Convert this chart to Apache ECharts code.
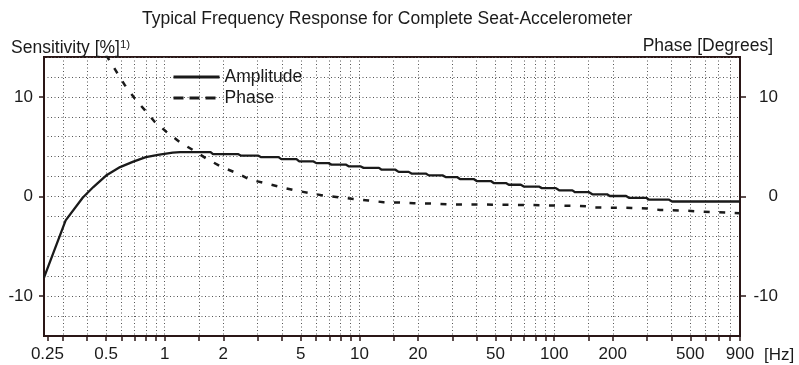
<!DOCTYPE html>
<html><head><meta charset="utf-8">
<script src="https://cdn.jsdelivr.net/npm/echarts@6/dist/echarts.min.js"></script>
<style>html,body{margin:0;padding:0;background:#fff}#c{width:799px;height:365px}</style>
</head><body><div id="c"></div>
<script>
const ampHz = [0.24,0.31,0.38,0.43,0.5,0.59,0.69,0.8,0.94,1.1,1.2,1.72,1.77,2.39,2.47,3.03,3.13,3.84,3.97,4.75,4.91,5.81,6.01,6.94,7.18,8.5,8.8,10.1,10.5,12.6,13.0,15.3,15.9,17.9,18.5,21.9,22.7,26.7,27.7,31.7,32.8,38.6,40.0,47.3,48.9,56.5,58.5,67.4,69.8,83.5,86.4,102,106,124,128,151,157,187,193,234,242,297,307,389,403,900];
const ampPct = [-8.15,-2.4,-0.1,0.95,2.1,2.95,3.5,3.95,4.2,4.4,4.45,4.45,4.25,4.25,4.1,4.1,3.95,3.95,3.75,3.75,3.52,3.52,3.35,3.35,3.2,3.2,3.03,3.03,2.87,2.87,2.69,2.69,2.47,2.47,2.3,2.3,2.12,2.12,1.95,1.95,1.75,1.75,1.55,1.55,1.35,1.35,1.18,1.18,1.0,1.0,0.84,0.84,0.62,0.62,0.43,0.43,0.22,0.22,0.05,0.05,-0.13,-0.13,-0.32,-0.32,-0.5,-0.5];
const phaseHz = [0.5,0.564,0.623,0.70,0.789,0.888,1.02,1.19,1.40,1.64,1.96,2.34,2.74,3.27,3.95,4.70,5.57,6.52,7.79,9.31,11.1,13.3,16,19,23,28,34,41,49,60,75,90,110,130,150,160,200,250,300,350,450,550,700,900];
const phaseDeg = [14.2,12.56,11.2,9.87,8.69,7.5,6.5,5.48,4.65,3.8,2.96,2.36,1.69,1.35,0.94,0.6,0.34,0.1,-0.07,-0.24,-0.4,-0.57,-0.6,-0.67,-0.7,-0.78,-0.8,-0.8,-0.82,-0.84,-0.85,-0.9,-0.92,-0.95,-1.0,-1.1,-1.12,-1.15,-1.2,-1.35,-1.4,-1.5,-1.58,-1.68];
const xLabelHz = [0.25,0.5,1,2,5,10,20,50,100,200,500,900];
const xGridHz = [0.3,0.4,0.5,0.6,0.7,0.8,0.9,1,1.5,2,3,4,5,6,7,8,9,10,15,20,30,40,50,60,70,80,90,100,150,200,300,400,500,600,700,800];
const xTickHz = [0.25].concat(xGridHz, [900]);
const yLabelVals = [-10,0,10];
const xMinHz = 0.24, xMaxHz = 900;

const lg = Math.log10;
const FONT = 'Liberation Sans, Arial, sans-serif';
const INK = '#1a1a1a';
const FRAME = '#2a1616';
const dotted = {color:'#555', width:1, type:[1,2.5]};
const hiddenSym = {color:'rgba(0,0,0,0)', borderColor:'rgba(0,0,0,0)', borderWidth:0, opacity:0};

const chart = echarts.init(document.getElementById('c'), null, {renderer:'canvas'});
const xBase = {type:'value', min:lg(xMinHz), max:lg(xMaxHz)};
const yBase = {type:'value', min:-14, max:14};
chart.setOption({
  backgroundColor:'#fff',
  animation:false,
  textStyle:{fontFamily:FONT, color:INK},
  title:[
    {text:'Typical Frequency Response for Complete Seat-Accelerometer', left:142, top:10, padding:0,
     textStyle:{fontSize:17.5, fontWeight:'normal', color:INK, fontFamily:FONT}},
    {text:'{a|Sensitivity [%]}{s|1)}', left:11, top:39, padding:0,
     textStyle:{fontWeight:'normal', rich:{a:{fontSize:17.5, fontWeight:'normal', color:INK, fontFamily:FONT}, s:{fontSize:11.5, fontWeight:'normal', color:INK, fontFamily:FONT, verticalAlign:'top'}}}},
    {text:'Phase [Degrees]', right:26, top:37, padding:0,
     textStyle:{fontSize:17.5, fontWeight:'normal', color:INK, fontFamily:FONT}}
  ],
  legend:{
    orient:'vertical', left:172, top:68, padding:0, itemGap:3, itemWidth:46, itemHeight:14,
    textStyle:{fontSize:17.5, color:INK, fontFamily:FONT},
    itemStyle:hiddenSym,
    data:[
      {name:'Amplitude', itemStyle:hiddenSym, lineStyle:{width:3, color:INK}},
      {name:'Phase', itemStyle:hiddenSym, lineStyle:{width:3, color:INK, type:[10,6]}}
    ]
  },
  grid:{left:44, right:59, top:57, bottom:29, show:true, borderColor:FRAME, borderWidth:2, backgroundColor:'transparent'},
  xAxis:[
    Object.assign({}, xBase, {
      position:'bottom',
      axisLine:{show:true, onZero:false, lineStyle:{color:FRAME, width:2}},
      axisTick:{show:true, length:5, lineStyle:{color:FRAME, width:1.5}, customValues:xTickHz.map(lg)},
      axisLabel:{show:true, margin:10, fontSize:17, color:INK, fontFamily:FONT,
        customValues:xLabelHz.map(lg),
        formatter:v=>String(Number(Math.pow(10,v).toPrecision(3)))},
      splitLine:{show:false},
      name:'[Hz]', nameLocation:'end', nameGap:24,
      nameTextStyle:{fontSize:17, color:INK, fontFamily:FONT, verticalAlign:'top', padding:[11,0,0,0]}
    }),
    Object.assign({}, xBase, {
      position:'bottom',
      axisLine:{show:false, onZero:false}, axisLabel:{show:false},
      axisTick:{show:false, customValues:xGridHz.map(lg)},
      splitLine:{show:true, lineStyle:dotted}
    })
  ],
  yAxis:[
    Object.assign({}, yBase, {
      position:'left',
      axisLine:{show:true, onZero:false, lineStyle:{color:FRAME, width:2}},
      axisTick:{show:true, length:5, lineStyle:{color:FRAME, width:1.5}, customValues:yLabelVals},
      axisLabel:{show:true, margin:11, fontSize:17, color:INK, fontFamily:FONT, customValues:yLabelVals},
      splitLine:{show:false}
    }),
    Object.assign({}, yBase, {
      position:'right',
      axisLine:{show:true, onZero:false, lineStyle:{color:FRAME, width:2}},
      axisTick:{show:true, length:6, lineStyle:{color:FRAME, width:1.5}, customValues:yLabelVals},
      axisLabel:{show:true, margin:38, align:'right', fontSize:17, color:INK, fontFamily:FONT, customValues:yLabelVals},
      splitLine:{show:false}
    }),
    Object.assign({}, yBase, {
      position:'left', interval:2,
      axisLine:{show:false, onZero:false}, axisTick:{show:false}, axisLabel:{show:false},
      splitLine:{show:true, lineStyle:dotted}
    })
  ],
  series:[
    {name:'Amplitude', type:'line', xAxisIndex:0, yAxisIndex:0, symbol:'none', showSymbol:false,
     lineStyle:{color:INK, width:2.3}, itemStyle:{color:INK},
     data:ampHz.map((f,i)=>[lg(f), ampPct[i]])},
    {name:'Phase', type:'line', xAxisIndex:0, yAxisIndex:1, symbol:'none', showSymbol:false, smooth:false,
     lineStyle:{color:INK, width:2.5, type:[6,9.5]}, itemStyle:{color:INK},
     data:phaseHz.map((f,i)=>[lg(f), phaseDeg[i]])}
  ]
});
</script></body></html>
